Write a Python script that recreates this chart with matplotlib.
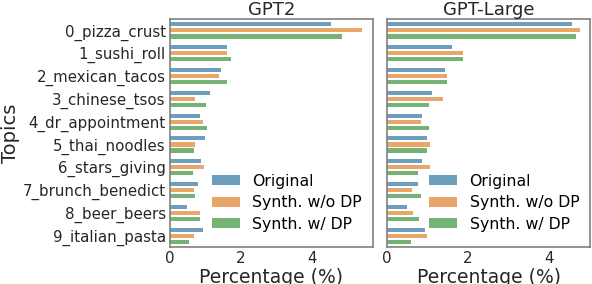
import matplotlib
matplotlib.use("Agg")
import matplotlib.pyplot as plt
import numpy as np

topics = ["0_pizza_crust", "1_sushi_roll", "2_mexican_tacos", "3_chinese_tsos",
          "4_dr_appointment", "5_thai_noodles", "6_stars_giving",
          "7_brunch_benedict", "8_beer_beers", "9_italian_pasta"]
series = ["Original", "Synth. w/o DP", "Synth. w/ DP"]

gpt2_orig = [4.56, 1.60, 1.44, 1.13, 0.85, 0.98, 0.87, 0.78, 0.47, 0.92]
gpt2_nodp = [5.41, 1.60, 1.38, 0.72, 0.92, 0.70, 0.95, 0.67, 0.84, 0.67]
gpt2_dp = [4.85, 1.71, 1.60, 1.01, 1.04, 0.67, 0.64, 0.70, 0.84, 0.53]

large_orig = [4.57, 1.61, 1.44, 1.12, 0.87, 0.99, 0.87, 0.77, 0.50, 0.94]
large_nodp = [4.77, 1.89, 1.49, 1.39, 0.84, 1.07, 1.07, 0.62, 0.65, 0.99]
large_dp = [4.67, 1.89, 1.47, 1.04, 1.04, 0.99, 0.77, 0.84, 0.80, 0.60]

colors = ["#3274a1", "#e1812c", "#3a923a"]
txt = "#262626"

fig, axes = plt.subplots(1, 2, figsize=(5.92, 2.84), dpi=100, sharey=True)
fig.subplots_adjust(left=0.287, right=0.997, top=0.933, bottom=0.130, wspace=0.07)

y = np.arange(len(topics))
slot = 0.8 / 3
panels = [("GPT2", [gpt2_orig, gpt2_nodp, gpt2_dp], 5.73),
          ("GPT-Large", [large_orig, large_nodp, large_dp], 5.03)]

for ax, (title, vals, xmax) in zip(axes, panels):
    for i, v in enumerate(vals):
        ax.barh(y - 0.4 + slot * (i + 0.5), v, height=slot * 0.68,
                color=colors[i], alpha=0.7, label=series[i])
    ax.set_xlim(0, xmax)
    ax.set_ylim(9.5, -0.5)
    ax.set_title(title, fontsize=13, color=txt, pad=3)
    ax.set_xlabel("Percentage (%)", fontsize=13.5, color=txt, labelpad=1)
    ax.set_xticks([0, 2, 4])
    for s in ax.spines.values():
        s.set_color("0.5")
        s.set_linewidth(1.2)
    ax.tick_params(length=0, labelsize=10.8, colors=txt, pad=3)
    ax.legend(loc="lower right", frameon=False, fontsize=11.3, handlelength=1.8,
              handleheight=0.6, labelspacing=0.4, borderaxespad=0.3,
              handletextpad=0.8, bbox_to_anchor=(1.0, 0.02))

axes[0].set_yticks(y)
axes[0].set_yticklabels(topics)
axes[0].set_ylabel("Topics", fontsize=14, color=txt, labelpad=2)

fig.savefig("out.png", dpi=100)
